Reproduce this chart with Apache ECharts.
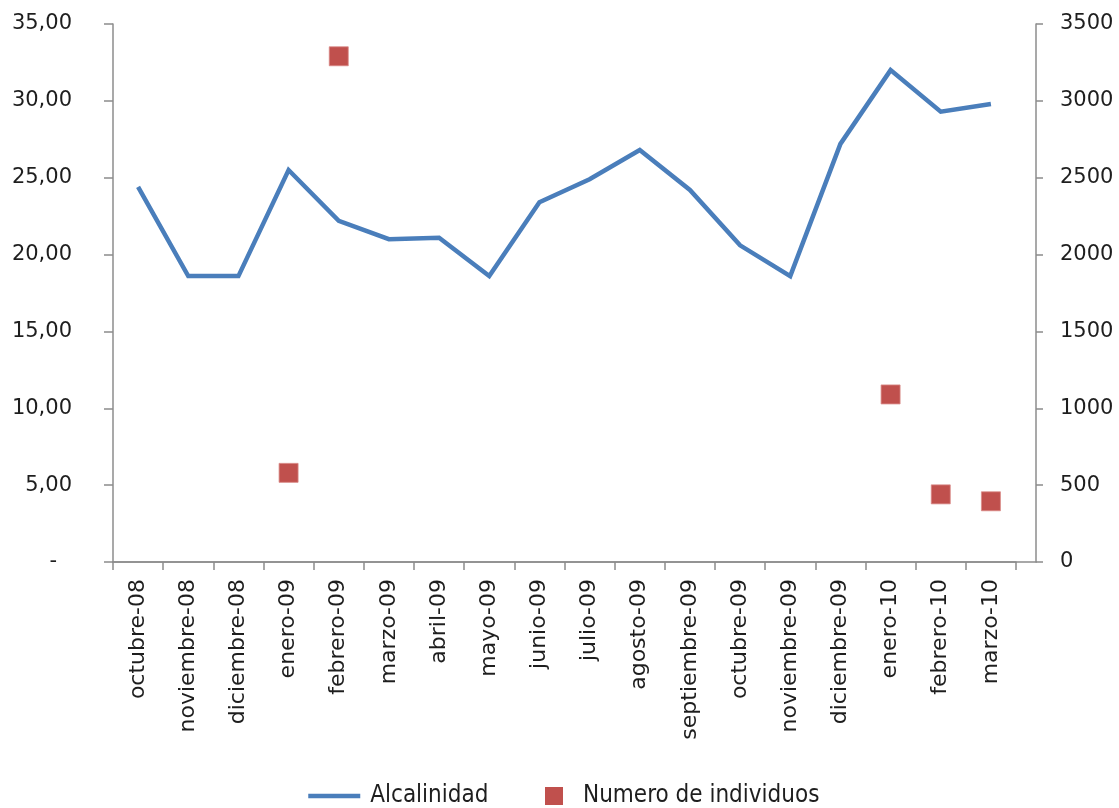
<!DOCTYPE html>
<html>
<head>
<meta charset="utf-8">
<title>Alcalinidad y número de individuos</title>
<script src="https://cdn.jsdelivr.net/npm/echarts@6/dist/echarts.min.js"></script>
<style>
  html, body { margin: 0; padding: 0; background: #ffffff; }
  #chart { width: 1119px; height: 808px; }
</style>
</head>
<body>
<div id="chart"></div>
<script>
// Monthly sampling periods
const meses = [
  'octubre-08', 'noviembre-08', 'diciembre-08', 'enero-09', 'febrero-09',
  'marzo-09', 'abril-09', 'mayo-09', 'junio-09', 'julio-09', 'agosto-09',
  'septiembre-09', 'octubre-09', 'noviembre-09', 'diciembre-09',
  'enero-10', 'febrero-10', 'marzo-10'
];

// Alkalinity per month (left axis)
const alcalinidad = [
  24.4, 18.6, 18.6, 25.5, 22.2, 21.0, 21.1, 18.6, 23.4,
  24.9, 26.8, 24.2, 20.6, 18.6, 27.2, 32.0, 29.3, 29.8
];

// Number of individuals counted (right axis); months without a count are null
const individuos = [
  null, null, null, 580, 3290, null, null, null, null,
  null, null, null, null, null, null, 1090, 440, 395
];

// Axis ranges
const alcMax = 35, alcStep = 5;
const indMax = 3500, indStep = 500;

const axisGrey = '#8c8c8c';
const textColor = '#1e1e1e';
const lineBlue = '#4a7ebb';
const squareRed = '#c0504d';
const labelFont = "'DejaVu Sans', sans-serif";
const legendFont = "'DejaVu Sans Condensed', 'DejaVu Sans', sans-serif";

const chart = echarts.init(document.getElementById('chart'), null, { renderer: 'canvas' });

chart.setOption({
  backgroundColor: '#ffffff',
  animation: false,
  grid: [
    { left: 113, right: 103, top: 24, bottom: 246 },
    // second grid only carries the bottom line out to the right-hand axis
    { left: 113, right: 83, top: 24, bottom: 246 }
  ],
  legend: [
    {
      data: ['Alcalinidad'],
      left: 306, top: 784,
      padding: 0,
      itemWidth: 52, itemHeight: 4,
      lineStyle: { color: lineBlue, width: 4.5 },
      itemStyle: { color: lineBlue },
      textStyle: { fontFamily: legendFont, fontSize: 24, color: textColor, padding: [0, 0, 0, 5] }
    },
    {
      data: ['Numero de individuos'],
      left: 545, top: 784,
      padding: 0,
      itemWidth: 18, itemHeight: 18,
      icon: 'rect',
      itemStyle: { color: squareRed, opacity: 1, borderWidth: 0 },
      textStyle: { fontFamily: legendFont, fontSize: 24, color: textColor, padding: [0, 0, 0, 15] }
    }
  ],
  xAxis: [
    {
      type: 'category',
      gridIndex: 0,
      data: meses,
      boundaryGap: true,
      axisLine: { show: true, lineStyle: { color: axisGrey, width: 1.5 } },
      axisTick: { show: true, alignWithLabel: false, length: 8, lineStyle: { color: axisGrey, width: 1.5 } },
      axisLabel: {
        rotate: 90, interval: 0, margin: 17,
        fontFamily: labelFont, fontSize: 22, color: textColor
      },
      splitLine: { show: false }
    },
    {
      type: 'value',
      gridIndex: 1,
      min: 0, max: 1,
      axisLine: { show: true, lineStyle: { color: axisGrey, width: 1.5 } },
      axisTick: { show: false },
      axisLabel: { show: false },
      splitLine: { show: false }
    }
  ],
  yAxis: [
    {
      type: 'value',
      gridIndex: 0,
      position: 'left',
      min: 0, max: alcMax, interval: alcStep,
      axisLine: { show: true, lineStyle: { color: axisGrey, width: 1.5 } },
      axisTick: { show: true, length: 9, lineStyle: { color: axisGrey, width: 1.5 } },
      axisLabel: {
        margin: 41,
        fontFamily: labelFont, fontSize: 21, color: textColor,
        formatter: function (v) {
          return v === 0 ? '{d|-}' : v.toFixed(2).replace('.', ',');
        },
        rich: { d: { fontFamily: labelFont, fontSize: 21, color: textColor, padding: [0, 15, 0, 0] } }
      },
      splitLine: { show: false }
    },
    {
      type: 'value',
      gridIndex: 0,
      position: 'right',
      offset: 20,
      min: 0, max: indMax, interval: indStep,
      axisLine: { show: true, lineStyle: { color: axisGrey, width: 1.5 } },
      axisTick: { show: true, length: 7, lineStyle: { color: axisGrey, width: 1.5 } },
      axisLabel: {
        margin: 24,
        fontFamily: labelFont, fontSize: 21, color: textColor,
        formatter: function (v) { return String(v); }
      },
      splitLine: { show: false }
    },
    {
      type: 'value',
      gridIndex: 1,
      show: false
    }
  ],
  series: [
    {
      name: 'Alcalinidad',
      type: 'line',
      xAxisIndex: 0,
      yAxisIndex: 0,
      data: alcalinidad,
      symbol: 'none',
      lineStyle: { color: lineBlue, width: 4.5, join: 'miter' },
      itemStyle: { color: lineBlue },
      z: 3
    },
    {
      name: 'Numero de individuos',
      type: 'scatter',
      xAxisIndex: 0,
      yAxisIndex: 1,
      data: individuos,
      symbol: 'rect',
      symbolSize: 19,
      itemStyle: { color: squareRed, opacity: 1, borderColor: '#d98a88', borderWidth: 0.8 },
      z: 4
    }
  ]
});
</script>
</body>
</html>
